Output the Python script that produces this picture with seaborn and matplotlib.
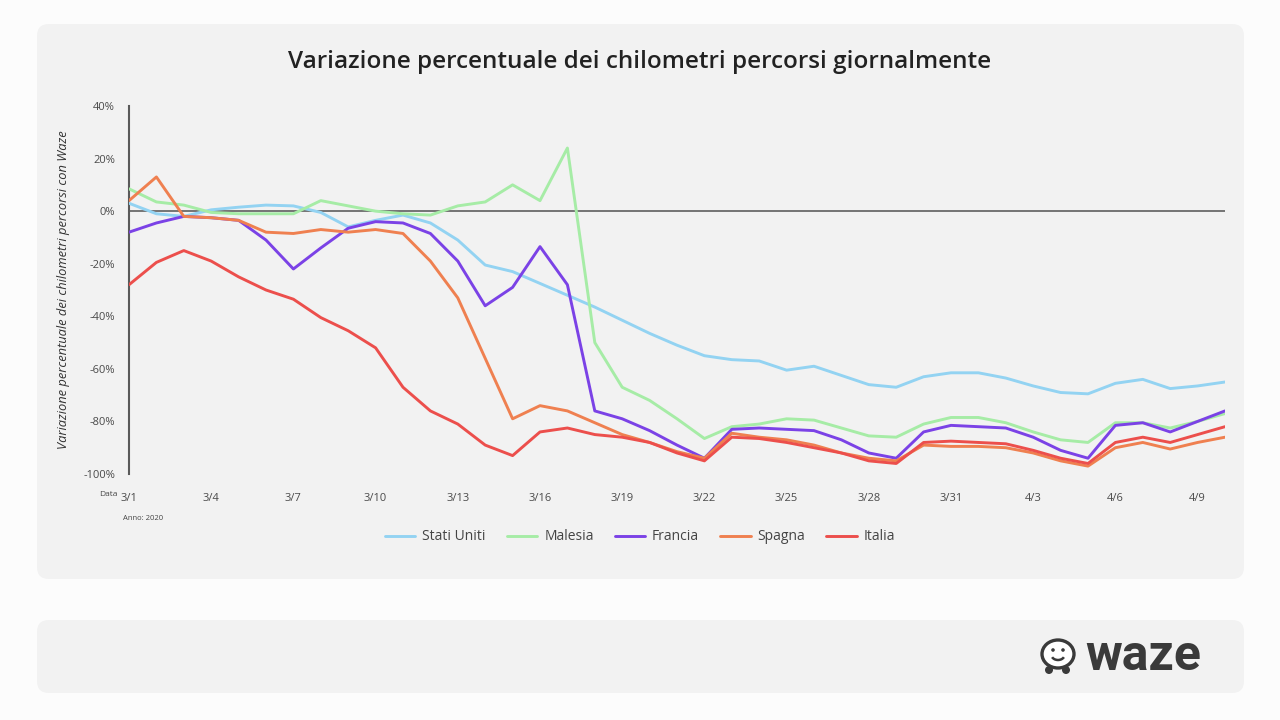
import numpy as np
import pandas as pd
import seaborn as sns
import matplotlib.pyplot as plt
from matplotlib.patches import FancyBboxPatch, Ellipse, Circle, Arc
from matplotlib.transforms import IdentityTransform

sns.set_theme(style="white")
plt.rcParams['font.family'] = ['Open Sans', 'DejaVu Sans']

# Daily dates, 1 March to 10 April 2020
dates = ([f"3/{d}" for d in range(1, 32)] + [f"4/{d}" for d in range(1, 11)])
tick_labels = dates[::3]

stati_uniti = [3, -1, -2, 0.5, 1.5, 2.3, 2, -0.5, -6, -3.5, -1.5, -4.5, -11, -20.5,
               -23, -27.5, -32, -36.5, -41.5, -46.5, -51, -55, -56.5, -57, -60.5,
               -59, -62.5, -66, -67, -63, -61.5, -61.5, -63.5, -66.5, -69, -69.5,
               -65.5, -64, -67.5, -66.5, -65]
malesia = [8.5, 3.5, 2.3, -0.5, -1, -1, -1, 4, 2, 0, -1, -1.5, 2, 3.5, 10, 4, 24,
           -50, -67, -72, -79, -86.5, -82, -81, -79, -79.5, -82.5, -85.5, -86, -81,
           -78.5, -78.5, -80.5, -84, -87, -88, -80.5, -80.5, -82.5, -80, -77]
francia = [-8, -4.5, -2, -2.5, -3.5, -11, -22, -14, -6.5, -4, -4.5, -8.5, -19, -36,
           -29, -13.5, -28, -76, -79, -83.5, -89, -94, -83, -82.5, -83, -83.5, -87,
           -92, -94, -84, -81.5, -82, -82.5, -86, -91, -94, -81.5, -80.5, -84, -80,
           -76]
spagna = [4, 13, -2, -2.5, -3.5, -8, -8.5, -7, -8, -7, -8.5, -19, -33, -56, -79,
          -74, -76, -80.5, -85, -88, -91.5, -94, -84.5, -86, -87, -89, -92, -94,
          -95, -89, -89.5, -89.5, -90, -92, -95, -97, -90, -88, -90.5, -88, -86]
italia = [-28, -19.5, -15, -19, -25, -30, -33.5, -40.5, -45.5, -52, -67, -76, -81,
          -89, -93, -84, -82.5, -85, -86, -88, -92, -95, -86, -86.5, -88, -90, -92,
          -95, -96, -88, -87.5, -88, -88.5, -91, -94, -96, -88, -86, -88, -85, -82]

series = {
    'Stati Uniti': stati_uniti,
    'Malesia': malesia,
    'Francia': francia,
    'Spagna': spagna,
    'Italia': italia,
}
palette = {
    'Stati Uniti': '#93d3f2',
    'Malesia': '#a6eca6',
    'Francia': '#7b42e6',
    'Spagna': '#ef8050',
    'Italia': '#ec4f4c',
}

rows = []
for name, vals in series.items():
    for i, v in enumerate(vals):
        rows.append({'giorno': i, 'valore': v, 'paese': name})
df = pd.DataFrame(rows)

fig = plt.figure(figsize=(12.8, 7.2), dpi=100)
fig.patch.set_facecolor('#fcfcfc')

# background cards
card1 = FancyBboxPatch((37, 720 - 579), 1207, 555, boxstyle="round,pad=0,rounding_size=12",
                       transform=IdentityTransform(), facecolor='#f2f2f2',
                       edgecolor='none', zorder=-10)
card2 = FancyBboxPatch((37, 720 - 693), 1207, 73, boxstyle="round,pad=0,rounding_size=12",
                       transform=IdentityTransform(), facecolor='#f2f2f2',
                       edgecolor='none', zorder=-10)
fig.add_artist(card1)
fig.add_artist(card2)

ax = fig.add_axes([129 / 1280, 1 - 474 / 720, (1225 - 129) / 1280, (474 - 106) / 720])
ax.set_facecolor('none')

ax.axhline(0, color='#6a6a6a', lw=1.3, zorder=1)
sns.lineplot(data=df, x='giorno', y='valore', hue='paese', palette=palette,
             linewidth=2.1, ax=ax, zorder=3, legend=True)
for line in ax.lines:
    line.set_solid_joinstyle('round')
    line.set_solid_capstyle('round')

ax.set_xlim(0, 40)
ax.set_ylim(-100, 40)
ax.set_yticks(range(-100, 41, 20))
ax.set_yticklabels([f"{v}%" for v in range(-100, 41, 20)])
ax.set_xticks(range(0, 41, 3))
ax.set_xticklabels(tick_labels)
ax.tick_params(axis='both', length=0, labelsize=8, colors='#4a4a4a')
ax.tick_params(axis='x', pad=14)
ax.tick_params(axis='y', pad=10)

for s in ['top', 'right', 'bottom']:
    ax.spines[s].set_visible(False)
ax.spines['left'].set_color('#5a5a5a')
ax.spines['left'].set_linewidth(1.5)

ax.set_xlabel('')
ax.set_ylabel('Variazione percentuale dei chilometri percorsi con Waze',
              fontsize=9.3, style='italic', color='#333333')
ax.yaxis.set_label_coords(-0.054, 0.5)

handles, labels = ax.get_legend_handles_labels()
ax.legend(handles, labels, loc='center', bbox_to_anchor=(0.5, 1 - 537 / 720),
          bbox_transform=fig.transFigure, ncol=5, frameon=False, fontsize=10,
          handlelength=2.2, handletextpad=0.5, columnspacing=1.5,
          labelcolor='#444444')

fig.text(0.5, 1 - 62 / 720, 'Variazione percentuale dei chilometri percorsi giornalmente',
         ha='center', va='center', fontsize=17.5, fontweight='semibold', color='#222222')
fig.text(117 / 1280, 1 - 494 / 720, 'Data', ha='right', va='center', fontsize=6,
         color='#444444')
fig.text(123 / 1280, 1 - 518 / 720, 'Anno: 2020', ha='left', va='center', fontsize=5.5,
         color='#444444')

# waze logo
fig.text(1085 / 1280, 1 - 657 / 720, 'waze', ha='left', va='center', fontsize=36,
         fontweight='bold', family='Roboto', color='#3a3a3a')
logo_col = '#3a3a3a'
fig.add_artist(Ellipse((1058, 720 - 654), 32, 28, transform=IdentityTransform(),
                       facecolor='white', edgecolor=logo_col, lw=2.4, zorder=5))
fig.add_artist(Circle((1049, 720 - 670), 4, transform=IdentityTransform(),
                      facecolor=logo_col, edgecolor='none', zorder=6))
fig.add_artist(Circle((1066, 720 - 670), 4, transform=IdentityTransform(),
                      facecolor=logo_col, edgecolor='none', zorder=6))
fig.add_artist(Circle((1053, 720 - 650), 1.8, transform=IdentityTransform(),
                      facecolor=logo_col, edgecolor='none', zorder=6))
fig.add_artist(Circle((1063, 720 - 650), 1.8, transform=IdentityTransform(),
                      facecolor=logo_col, edgecolor='none', zorder=6))
fig.add_artist(Arc((1058, 720 - 655), 13, 10, theta1=200, theta2=340,
                   transform=IdentityTransform(), edgecolor=logo_col, lw=1.8, zorder=6))

fig.savefig('out.png', dpi=100, facecolor=fig.get_facecolor())
